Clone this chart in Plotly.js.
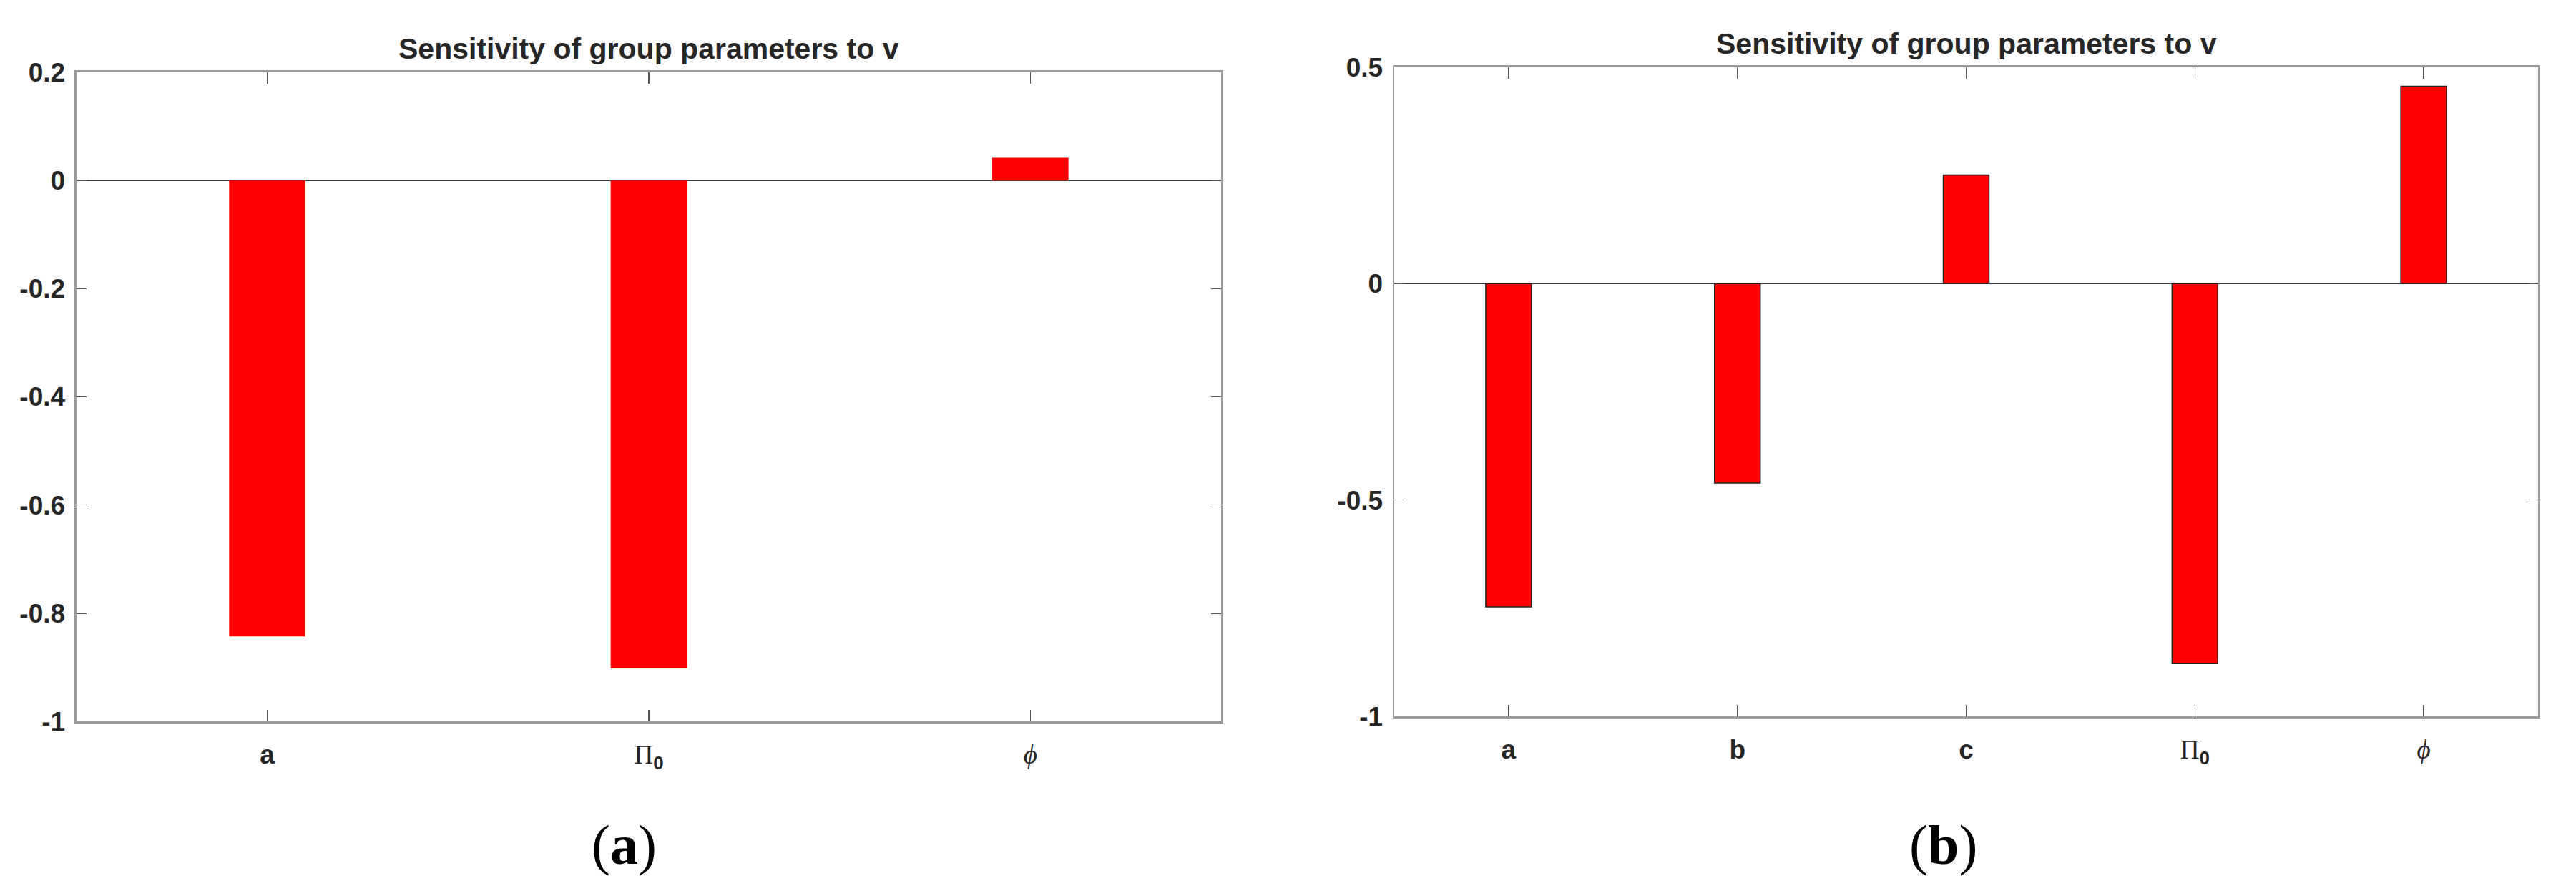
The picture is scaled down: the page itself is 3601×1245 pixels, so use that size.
<!DOCTYPE html>
<html>
<head>
<meta charset="utf-8">
<script src="https://cdn.plot.ly/plotly-3.0.1.min.js"></script>
<style>
  html, body { margin: 0; padding: 0; background: #fff; }
  #graph { width: 3601px; height: 1245px; }
</style>
</head>
<body>
<div id="graph"></div>
<script>
// panel (a)
const catsA = ['a', 'Pi0', 'phi'];
const valsA = [-0.843, -0.902, 0.042];
// panel (b)
const catsB = ['a', 'b', 'c', 'Pi0', 'phi'];
const valsB = [-0.747, -0.461, 0.251, -0.878, 0.456];

const labelMap = {
    a: 'a', b: 'b', c: 'c',
    Pi0: '<span style="font-family:\'Liberation Serif\';font-weight:normal">Π</span><sub>0</sub>',
    phi: '<span style="font-family:\'Liberation Serif\';font-weight:normal"><i>ϕ</i></span>'
};

const yTicksA = [-1, -0.8, -0.6, -0.4, -0.2, 0, 0.2];
const yTicksB = [-1, -0.5, 0, 0.5];
const titleText = 'Sensitivity of group parameters to v';

const textColor = '#262626';
const boxColor = '#9a9a9a';
const tickFont = {family: 'Liberation Sans, Arial, sans-serif', size: 37, color: textColor, weight: 700};

function yLabels(vals) {
    return vals.map(v => String(v));
}

function xAxis(cats, domain, anchor) {
    return {
        domain: domain,
        anchor: anchor,
        type: 'category',
        range: [-0.5, cats.length - 0.5],
        tickvals: cats,
        ticktext: cats.map(c => labelMap[c]),
        ticks: 'inside',
        ticklen: 16,
        tickwidth: 1.5,
        tickcolor: '#555',
        showline: true,
        linecolor: boxColor,
        linewidth: 2.5,
        mirror: 'ticks',
        showgrid: false,
        zeroline: false,
        tickfont: tickFont,
        ticklabelstandoff: 12,
        fixedrange: true
    };
}

function yAxis(ticks, domain, anchor) {
    return {
        domain: domain,
        anchor: anchor,
        range: [ticks[0], ticks[ticks.length - 1]],
        tickvals: ticks,
        ticktext: yLabels(ticks),
        ticks: 'inside',
        ticklen: 14,
        tickwidth: 1.5,
        tickcolor: '#555',
        showline: true,
        linecolor: boxColor,
        linewidth: 2.5,
        mirror: 'ticks',
        showgrid: false,
        zeroline: true,
        zerolinecolor: '#3a3a3a',
        zerolinewidth: 2,
        tickfont: tickFont,
        ticklabelstandoff: 6,
        fixedrange: true
    };
}

const traces = [
    {
        type: 'bar',
        x: catsA,
        y: valsA,
        width: 0.2,
        marker: {color: '#ff0000', line: {width: 0}},
        xaxis: 'x',
        yaxis: 'y',
        hoverinfo: 'none'
    },
    {
        type: 'bar',
        x: catsB,
        y: valsB,
        width: 0.2,
        marker: {color: '#ff0000', line: {color: '#222', width: 1.5}},
        xaxis: 'x2',
        yaxis: 'y2',
        hoverinfo: 'none'
    }
];

const titleFont = {family: 'Liberation Sans, Arial, sans-serif', size: 41, color: textColor, weight: 700};
const capFont = {family: 'Liberation Serif, Times New Roman, serif', size: 78, color: '#000'};

const layout = {
    width: 3601,
    height: 1245,
    margin: {l: 0, r: 0, t: 0, b: 0},
    paper_bgcolor: '#fff',
    plot_bgcolor: '#fff',
    showlegend: false,
    xaxis: xAxis(catsA, [0.02971, 0.47404], 'y'),
    yaxis: yAxis(yTicksA, [0.19036, 0.91888], 'x'),
    xaxis2: xAxis(catsB, [0.54124, 0.98528], 'y2'),
    yaxis2: yAxis(yTicksB, [0.19598, 0.92450], 'x2'),
    annotations: [
        {xref: 'paper', yref: 'paper', x: 0.2519, y: 0.91888, xanchor: 'center', yanchor: 'bottom', yshift: 8,
         text: '<b>' + titleText + '</b>', showarrow: false, font: titleFont},
        {xref: 'paper', yref: 'paper', x: 0.7633, y: 0.92450, xanchor: 'center', yanchor: 'bottom', yshift: 8,
         text: '<b>' + titleText + '</b>', showarrow: false, font: titleFont},
        {xref: 'paper', yref: 'paper', x: 872 / 3601, y: 1 - 1180 / 1245, xanchor: 'center', yanchor: 'middle',
         text: '(<b>a</b>)', showarrow: false, font: capFont},
        {xref: 'paper', yref: 'paper', x: 2716 / 3601, y: 1 - 1180 / 1245, xanchor: 'center', yanchor: 'middle',
         text: '(<b>b</b>)', showarrow: false, font: capFont}
    ]
};

Plotly.newPlot('graph', traces, layout, {staticPlot: true});
</script>
</body>
</html>
